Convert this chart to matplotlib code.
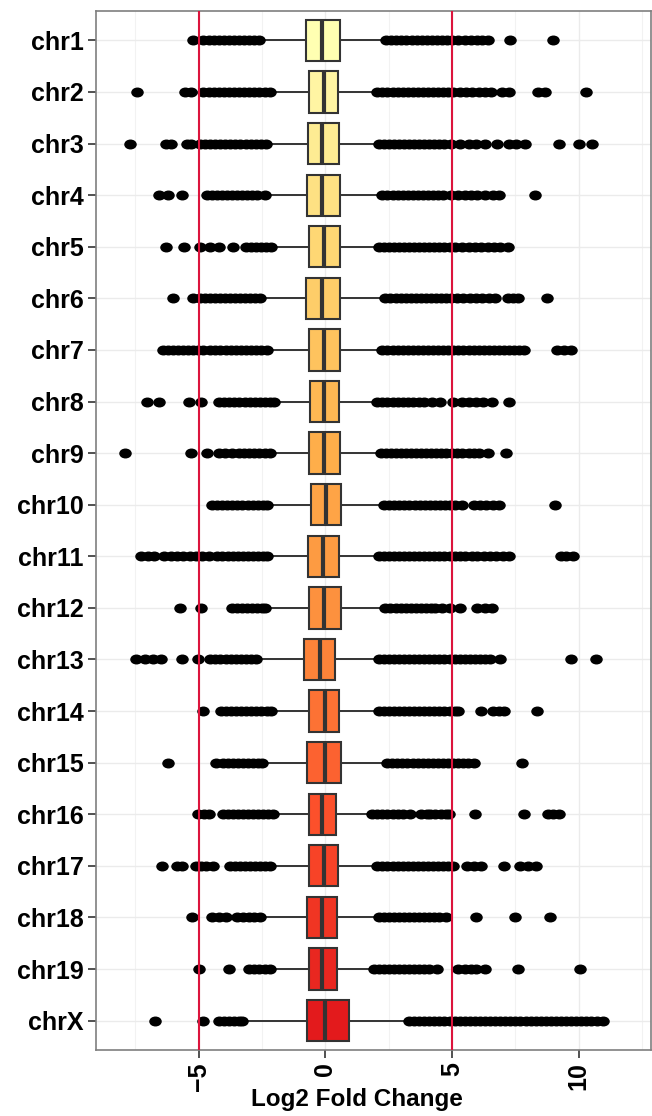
import numpy as np
import matplotlib
matplotlib.use('Agg')
import matplotlib.pyplot as plt
from matplotlib.colors import LinearSegmentedColormap
from matplotlib.path import Path

plt.rcParams['font.family'] = ['Liberation Sans', 'DejaVu Sans']

chroms = ['chr1', 'chr2', 'chr3', 'chr4', 'chr5', 'chr6', 'chr7', 'chr8', 'chr9', 'chr10',
          'chr11', 'chr12', 'chr13', 'chr14', 'chr15', 'chr16', 'chr17', 'chr18', 'chr19', 'chrX']

q1 = [-0.77, -0.66, -0.68, -0.74, -0.63, -0.77, -0.66, -0.59, -0.63, -0.56,
      -0.68, -0.66, -0.84, -0.63, -0.73, -0.63, -0.63, -0.74, -0.66, -0.74]
med = [-0.13, -0.07, -0.12, -0.13, -0.07, -0.13, -0.07, -0.04, -0.07, 0.01,
       -0.10, -0.07, -0.21, -0.03, 0.00, -0.13, -0.07, -0.13, -0.13, 0.00]
q3 = [0.56, 0.49, 0.52, 0.56, 0.56, 0.59, 0.56, 0.52, 0.56, 0.63,
      0.52, 0.60, 0.38, 0.53, 0.60, 0.42, 0.49, 0.45, 0.45, 0.94]
whis_lo = [-2.58, -2.16, -2.30, -2.37, -2.16, -2.58, -2.30, -2.02, -2.16, -2.30,
           -2.30, -2.37, -2.65, -2.16, -2.51, -2.02, -2.16, -2.58, -2.16, -3.28]
whis_hi = [2.37, 2.03, 2.09, 2.23, 2.09, 2.37, 2.23, 2.03, 2.16, 2.30,
           2.09, 2.37, 2.09, 2.09, 2.44, 1.82, 2.03, 2.09, 1.89, 3.28]

outliers = [
    # chr1
    [-5.21, -4.82, -4.6, -4.4, -4.2, -4.0, -3.8, -3.6, -3.4, -3.2, -3.0, -2.8, -2.6,
     2.4, 2.6, 2.8, 3.0, 3.2, 3.4, 3.6, 3.8, 4.0, 4.2, 4.4, 4.6, 4.8, 5.0, 5.25, 5.5,
     5.75, 6.0, 6.2, 6.42, 7.29, 8.97],
    # chr2
    [-7.43, -5.52, -5.31, -4.82, -4.6, -4.4, -4.2, -4.0, -3.8, -3.6, -3.4, -3.2, -3.0,
     -2.8, -2.6, -2.4, -2.2, 2.05, 2.25, 2.45, 2.65, 2.85, 3.05, 3.25, 3.45, 3.65, 3.85,
     4.05, 4.25, 4.45, 4.65, 4.85, 5.05, 5.3, 5.55, 5.8, 6.05, 6.3, 6.55, 6.98, 7.26,
     8.38, 8.66, 10.27],
    # chr3
    [-7.71, -6.28, -6.08, -5.45, -5.31, -4.96, -4.75, -4.55, -4.35, -4.15, -3.95, -3.75,
     -3.55, -3.35, -3.15, -2.95, -2.75, -2.55, -2.35, 2.1, 2.3, 2.5, 2.7, 2.9, 3.1, 3.3,
     3.5, 3.7, 3.9, 4.1, 4.3, 4.5, 4.7, 4.95, 5.31, 5.66, 5.94, 6.28, 6.77, 7.26, 7.54,
     7.89, 9.22, 9.99, 10.54],
    # chr4
    [-6.56, -6.22, -5.66, -4.68, -4.48, -4.28, -4.08, -3.88, -3.68, -3.48, -3.28, -3.08,
     -2.88, -2.68, -2.4, 2.25, 2.45, 2.65, 2.85, 3.05, 3.25, 3.45, 3.65, 3.85, 4.05, 4.25,
     4.45, 4.65, 4.95, 5.24, 5.5, 5.75, 6.0, 6.3, 6.6, 6.84, 8.27],
    # chr5
    [-6.27, -5.59, -4.96, -4.54, -4.19, -3.63, -3.14, -2.94, -2.74, -2.54, -2.34, -2.16,
     2.1, 2.3, 2.5, 2.7, 2.9, 3.1, 3.3, 3.5, 3.7, 3.9, 4.1, 4.3, 4.5, 4.7, 4.9, 5.1, 5.38,
     5.65, 5.9, 6.15, 6.4, 6.65, 6.9, 7.19],
    # chr6
    [-6.0, -5.24, -4.96, -4.76, -4.56, -4.36, -4.16, -3.96, -3.76, -3.56, -3.36, -3.16,
     -2.96, -2.76, -2.58, 2.37, 2.57, 2.77, 2.97, 3.17, 3.37, 3.57, 3.77, 3.97, 4.17,
     4.37, 4.57, 4.77, 4.96, 5.2, 5.45, 5.7, 5.95, 6.2, 6.45, 6.7, 7.2, 7.4, 7.6, 8.76],
    # chr7
    [-6.42, -6.22, -6.02, -5.82, -5.62, -5.42, -5.22, -5.02, -4.82, -4.54, -4.34, -4.14,
     -3.94, -3.74, -3.54, -3.34, -3.14, -2.94, -2.74, -2.54, -2.32, 2.25, 2.45, 2.65,
     2.85, 3.05, 3.25, 3.45, 3.65, 3.85, 4.05, 4.25, 4.45, 4.65, 4.85, 5.05, 5.25, 5.45,
     5.65, 5.85, 6.05, 6.25, 6.45, 6.65, 6.85, 7.05, 7.25, 7.45, 7.65, 7.82, 9.15, 9.4,
     9.71],
    # chr8
    [-7.05, -6.56, -5.38, -4.89, -4.19, -3.99, -3.79, -3.59, -3.39, -3.19, -2.99, -2.79,
     -2.59, -2.39, -2.19, -2.02, 2.05, 2.25, 2.45, 2.65, 2.85, 3.05, 3.25, 3.45, 3.7,
     3.91, 4.2, 4.54, 5.03, 5.38, 5.66, 5.94, 6.22, 6.56, 7.26],
    # chr9
    [-7.92, -5.31, -4.68, -4.19, -3.95, -3.7, -3.42, -3.2, -3.0, -2.8, -2.6, -2.4, -2.18,
     2.18, 2.38, 2.58, 2.78, 2.98, 3.18, 3.38, 3.58, 3.78, 3.98, 4.18, 4.38, 4.58, 4.78,
     4.98, 5.18, 5.4, 5.65, 5.85, 6.08, 6.42, 7.12],
    # chr10
    [-4.47, -4.27, -4.07, -3.87, -3.67, -3.47, -3.27, -3.07, -2.87, -2.67, -2.47, -2.32,
     2.32, 2.52, 2.72, 2.92, 3.12, 3.32, 3.52, 3.72, 3.92, 4.12, 4.32, 4.52, 4.72, 4.92,
     5.12, 5.38, 5.87, 6.1, 6.35, 6.6, 6.84, 9.08],
    # chr11
    [-7.26, -7.0, -6.77, -6.35, -6.1, -5.85, -5.6, -5.35, -5.1, -4.85, -4.6, -4.26, -4.06,
     -3.86, -3.66, -3.46, -3.26, -3.06, -2.86, -2.66, -2.46, -2.3, 2.1, 2.3, 2.5, 2.7,
     2.9, 3.1, 3.3, 3.5, 3.7, 3.9, 4.1, 4.3, 4.5, 4.7, 4.9, 5.1, 5.3, 5.5, 5.8, 6.0, 6.25,
     6.5, 6.75, 7.0, 7.26, 9.29, 9.5, 9.78],
    # chr12
    [-5.73, -4.89, -3.7, -3.5, -3.3, -3.1, -2.9, -2.7, -2.5, -2.37, 2.37, 2.57, 2.77,
     2.97, 3.17, 3.37, 3.57, 3.77, 3.97, 4.17, 4.33, 4.61, 4.9, 5.31, 6.0, 6.3, 6.56],
    # chr13
    [-7.47, -7.1, -6.8, -6.49, -5.66, -5.03, -4.54, -4.34, -4.14, -3.94, -3.74, -3.54,
     -3.34, -3.14, -2.94, -2.74, 2.1, 2.3, 2.5, 2.7, 2.9, 3.1, 3.3, 3.5, 3.7, 3.9, 4.1,
     4.3, 4.5, 4.7, 4.9, 5.1, 5.3, 5.5, 5.7, 5.9, 6.1, 6.3, 6.49, 6.91, 9.71, 10.68],
    # chr14
    [-4.82, -4.12, -3.92, -3.72, -3.52, -3.32, -3.12, -2.92, -2.72, -2.52, -2.32, -2.16,
     2.1, 2.3, 2.5, 2.7, 2.9, 3.1, 3.3, 3.5, 3.7, 3.9, 4.1, 4.3, 4.5, 4.7, 4.9, 5.1, 5.24,
     6.15, 6.63, 6.85, 7.05, 8.34],
    # chr15
    [-6.22, -4.33, -4.05, -3.85, -3.65, -3.45, -3.25, -3.05, -2.85, -2.65, -2.51, 2.44,
     2.64, 2.84, 3.04, 3.24, 3.44, 3.64, 3.84, 4.04, 4.24, 4.44, 4.64, 4.84, 5.04, 5.24,
     5.44, 5.64, 5.87, 7.75],
    # chr16
    [-5.03, -4.8, -4.61, -4.05, -3.85, -3.65, -3.45, -3.25, -3.05, -2.85, -2.65, -2.45,
     -2.25, -2.05, 1.85, 2.05, 2.25, 2.45, 2.65, 2.85, 3.05, 3.35, 3.77, 4.0, 4.12, 4.33,
     4.55, 4.75, 4.89, 5.89, 7.85, 8.8, 9.0, 9.22],
    # chr17
    [-6.45, -5.87, -5.65, -5.1, -4.9, -4.7, -4.45, -3.77, -3.57, -3.37, -3.17, -2.97,
     -2.77, -2.57, -2.37, -2.17, 2.05, 2.25, 2.45, 2.65, 2.85, 3.05, 3.25, 3.45, 3.65,
     3.85, 4.05, 4.25, 4.45, 4.65, 4.85, 5.03, 5.59, 5.85, 6.15, 7.03, 7.68, 8.0, 8.31],
    # chr18
    [-5.27, -4.47, -4.2, -3.91, -3.49, -3.25, -3.0, -2.8, -2.58, 2.1, 2.3, 2.5, 2.7, 2.9,
     3.1, 3.3, 3.5, 3.7, 3.9, 4.1, 4.3, 4.5, 4.75, 5.94, 7.47, 8.87],
    # chr19
    [-5.0, -3.81, -3.0, -2.8, -2.6, -2.4, -2.18, 1.9, 2.1, 2.3, 2.5, 2.7, 2.9, 3.1, 3.3,
     3.5, 3.7, 3.9, 4.1, 4.4, 5.24, 5.5, 5.75, 5.94, 6.31, 7.61, 10.06],
    # chrX
    [-6.73, -4.82, -4.19, -4.0, -3.8, -3.6, -3.4, -3.28, 3.3, 3.5, 3.7, 3.9, 4.1, 4.3,
     4.5, 4.7, 4.9, 5.1, 5.3, 5.5, 5.7, 5.9, 6.1, 6.3, 6.5, 6.7, 6.9, 7.1, 7.3, 7.5, 7.7,
     7.9, 8.1, 8.3, 8.5, 8.7, 8.9, 9.1, 9.3, 9.5, 9.7, 9.9, 10.1, 10.3, 10.5, 10.7, 10.96],
]

cutoffs = [-5, 5]

# fill colours: YlOrRd ramp
ramp = LinearSegmentedColormap.from_list(
    'ylorrd', ['#FFFFB2', '#FED976', '#FEB24C', '#FD8D3C', '#FC4E2A', '#E31A1C'])
n = len(chroms)
fills = [ramp(i / (n - 1)) for i in range(n)]

stats = []
for i in range(n):
    stats.append(dict(q1=q1[i], med=med[i], q3=q3[i], whislo=whis_lo[i],
                      whishi=whis_hi[i], fliers=outliers[i], label=chroms[i]))

# slightly wide dot, like the original render
circ = Path.unit_circle()
dot = Path(circ.vertices * np.array([1.3, 1.0]), circ.codes)

fig = plt.figure(figsize=(6.52, 11.16), dpi=100)
ax = fig.add_axes([96 / 652, 1 - 1050 / 1116, 555 / 652, 1039 / 1116])

pos = np.arange(n)
bp = ax.bxp(stats, positions=pos, widths=0.8, orientation='horizontal',
            patch_artist=True, showcaps=False,
            boxprops=dict(edgecolor='#333333', linewidth=1.5),
            whiskerprops=dict(color='#333333', linewidth=1.4),
            medianprops=dict(color='#333333', linewidth=3.0),
            flierprops=dict(marker=dot, markersize=8, markerfacecolor='black',
                            markeredgecolor='black', linestyle='none'))
for patch, c in zip(bp['boxes'], fills):
    patch.set_facecolor(c)
for art in bp['boxes'] + bp['medians']:
    art.set_zorder(3)
for art in bp['fliers']:
    art.set_zorder(2.5)

for c in cutoffs:
    ax.axvline(c, color='#DC143C', linewidth=1.5, zorder=5)

ax.set_xlim(-9.05, 12.85)
ax.set_ylim(n - 1 + 0.57, -0.57)
ax.set_yticks(pos)
ax.set_yticklabels(chroms, fontsize=18, fontweight='bold')
ax.set_xticks([-5, 0, 5, 10])
ax.set_xticklabels(['\u22125', '0', '5', '10'], fontsize=18, fontweight='bold', rotation=90)
ax.set_xticks([-7.5, -2.5, 2.5, 7.5, 12.5], minor=True)
ax.tick_params(axis='both', colors='#333333', length=6, width=1.2, labelcolor='black',
               pad=3)
ax.tick_params(axis='x', which='minor', length=0)

ax.grid(True, which='major', color='#EBEBEB', linewidth=1.0, zorder=0)
ax.grid(True, which='minor', axis='x', color='#F2F2F2', linewidth=0.8, zorder=0)
ax.set_axisbelow(True)

for s in ax.spines.values():
    s.set_color('#7F7F7F')
    s.set_linewidth(1.2)

ax.set_xlabel('Log2 Fold Change', fontsize=17.5, fontweight='bold')
ax.xaxis.set_label_coords(0.47, -0.037)

fig.savefig('out.png', dpi=100)
